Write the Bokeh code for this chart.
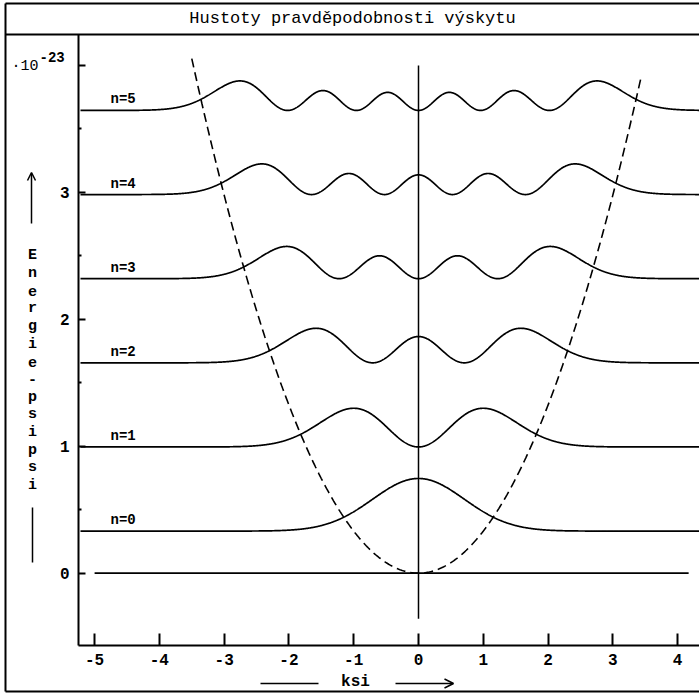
import numpy as np
from math import factorial, pi, sqrt
from numpy.polynomial.hermite import hermval
from bokeh.plotting import figure
from bokeh.models import Range1d, LinearAxis, FixedTicker, Arrow, OpenHead
from bokeh.core.properties import value
from bokeh.embed import file_html
from bokeh.resources import INLINE

# ---------------- data ----------------
title_text = "Hustoty pravděpodobnosti výskytu"
quantum_numbers = [0, 1, 2, 3, 4, 5]
level_labels = ["n=0", "n=1", "n=2", "n=3", "n=4", "n=5"]
level_energy = [0.331, 0.994, 1.657, 2.320, 2.983, 3.646]   # baselines, units of 1e-23
density_scale = 0.735                                       # height of |psi|^2 curves
potential_coef = 0.331                                      # V = coef * ksi^2
potential_ksi_range = [-3.50, 3.43]
x_ticks = [-5, -4, -3, -2, -1, 0, 1, 2, 3, 4]
y_major_ticks = [0, 1, 2, 3, 4]
y_minor_ticks = [0.5, 1.5, 2.5, 3.5]
y_tick_labels = ["0", "1", "2", "3", ""]
y_label_text = "Energie-psipsi"
x_label_text = "ksi"
exponent_text = "-23"

# ---------------- pixel <-> data mapping of the page ----------------
W, H = 699, 693
X0, SX = 418.0, 64.78
Y0, SY = 572.6, 126.9
def xd(px): return (px - X0) / SX
def yd(py): return (Y0 - py) / SY

FONT = value("Liberation Mono")

p = figure(width=W, height=H, x_range=Range1d(xd(0), xd(W)), y_range=Range1d(yd(H), yd(0)),
           output_backend="svg", toolbar_location=None, min_border=0,
           x_axis_type=None, y_axis_type=None)
p.outline_line_color = None
p.background_fill_color = "white"
p.border_fill_color = "white"

# ---------------- axes ----------------
yax = LinearAxis(fixed_location=xd(78), bounds=(yd(645), yd(34)),
                 ticker=FixedTicker(ticks=y_major_ticks, minor_ticks=y_minor_ticks),
                 major_label_overrides={t: s for t, s in zip(y_major_ticks, y_tick_labels)})
yax.axis_line_width = 2
yax.major_tick_in = 7
yax.major_tick_out = 0
yax.minor_tick_in = 3
yax.minor_tick_out = 0
yax.major_tick_line_width = 2
yax.minor_tick_line_width = 2
yax.major_label_standoff = 9
yax.major_label_text_font = "Liberation Mono"
yax.major_label_text_font_style = "bold"
yax.major_label_text_font_size = "16px"
yax.major_label_text_color = "black"
p.add_layout(yax, "left")

xax = LinearAxis(fixed_location=yd(645), bounds=(xd(78), xd(W)),
                 ticker=FixedTicker(ticks=x_ticks, minor_ticks=[]),
                 major_label_overrides={t: str(t) for t in x_ticks})
xax.axis_line_width = 2
xax.major_tick_in = 12
xax.major_tick_out = 0
xax.minor_tick_in = 0
xax.minor_tick_out = 0
xax.major_tick_line_width = 2
xax.major_label_standoff = 8
xax.major_label_text_font = "Liberation Mono"
xax.major_label_text_font_style = "bold"
xax.major_label_text_font_size = "16px"
xax.major_label_text_color = "black"
p.add_layout(xax, "below")

# ---------------- page frame and title box ----------------
p.segment(x0=[xd(5), xd(5), xd(5), xd(5)], y0=[yd(3), yd(3), yd(34), yd(691)],
          x1=[xd(5), xd(W), xd(W), xd(W)], y1=[yd(691), yd(3), yd(34), yd(691)],
          line_color="black", line_width=2)
p.text(x=[xd(352)], y=[yd(18)], text=[title_text], text_align="center", text_baseline="middle",
       text_font=FONT, text_font_size="17px", text_color="black")

# exponent note
p.text(x=[xd(11)], y=[yd(66)], text=["·10"], text_align="left", text_baseline="alphabetic",
       text_font=FONT, text_font_size="15px", text_color="black")
p.text(x=[xd(39)], y=[yd(56)], text=[exponent_text], text_align="left", text_baseline="alphabetic",
       text_font=FONT, text_font_size="14px", text_font_style="bold", text_color="black")

# vertical stacked y label with arrow
chars = list(y_label_text)
p.text(x=[xd(32)] * len(chars), y=[yd(255 + 17.7 * k) for k in range(len(chars))], text=chars,
       text_align="center", text_baseline="middle", text_font=FONT, text_font_size="15px",
       text_font_style="bold", text_color="black")
p.add_layout(Arrow(x_start=xd(31), y_start=yd(223), x_end=xd(31), y_end=yd(172),
                   line_width=1.5, end=OpenHead(size=8, line_width=1.5)))
p.segment(x0=[xd(32)], y0=[yd(507)], x1=[xd(32)], y1=[yd(562)], line_color="black", line_width=1.5)

# x label with arrow
p.segment(x0=[xd(260)], y0=[yd(683)], x1=[xd(318)], y1=[yd(683)], line_color="black", line_width=1.5)
p.text(x=[xd(355)], y=[yd(681)], text=[x_label_text], text_align="center", text_baseline="middle",
       text_font=FONT, text_font_size="16px", text_font_style="bold", text_color="black")
p.add_layout(Arrow(x_start=xd(395), y_start=yd(683), x_end=xd(453), y_end=yd(683),
                   line_width=1.5, end=OpenHead(size=9, line_width=1.5)))

# ---------------- plot content ----------------
def density(n, xi):
    c = np.zeros(n + 1)
    c[n] = 1.0
    psi = hermval(xi, c) * np.exp(-xi ** 2 / 2) / sqrt(2 ** n * factorial(n) * sqrt(pi))
    return psi ** 2

# zero-energy line and vertical ksi=0 line
p.line(x=[-5.0, 4.17], y=[0, 0], line_color="black", line_width=1.8)
p.line(x=[0, 0], y=[-0.36, 4.0], line_color="black", line_width=1.5)

# potential parabola
kp = np.linspace(potential_ksi_range[0], potential_ksi_range[1], 400)
p.line(x=kp, y=potential_coef * kp ** 2, line_color="black", line_width=1.6, line_dash="9 5")

# probability densities on their energy levels
xi = np.linspace(xd(80), xd(W), 1500)
for n, e, lab in zip(quantum_numbers, level_energy, level_labels):
    p.line(x=xi, y=e + density_scale * density(n, xi), line_color="black", line_width=1.7)
    p.text(x=[xd(110)], y=[e + 11 / SY], text=[lab], text_align="left", text_baseline="alphabetic",
           text_font=FONT, text_font_size="14px", text_font_style="bold", text_color="black")

open("out.html", "w").write(file_html(p, INLINE))
